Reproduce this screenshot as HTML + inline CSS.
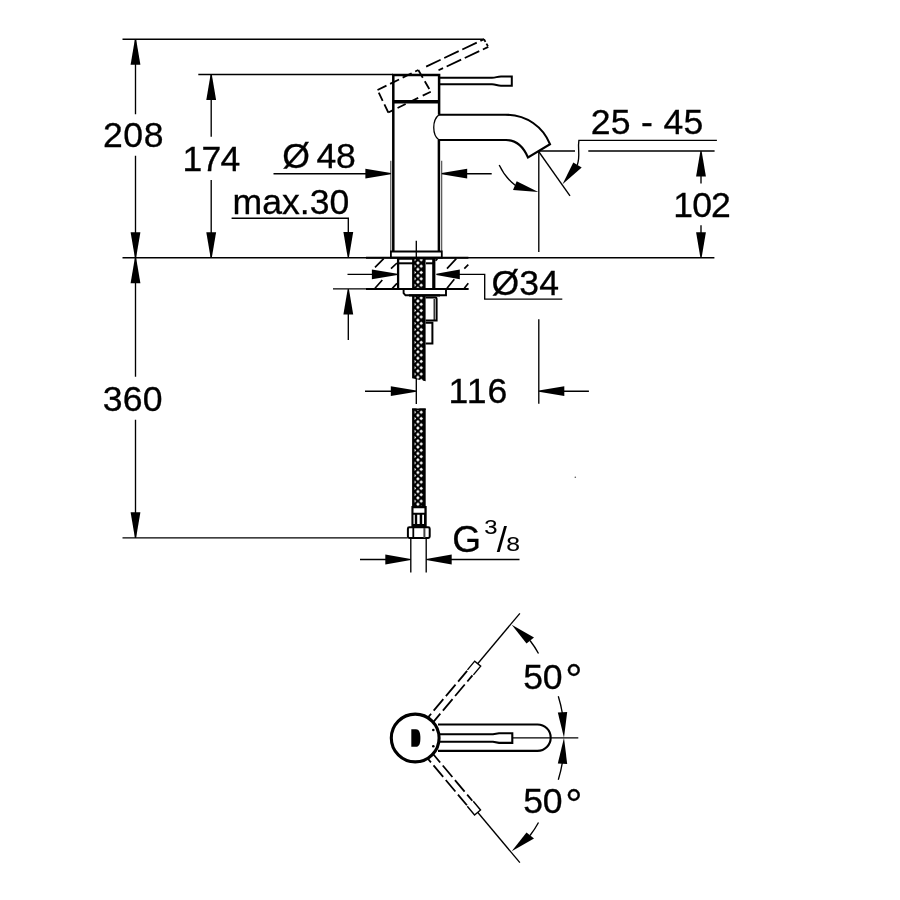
<!DOCTYPE html>
<html lang="en">
<head>
<meta charset="utf-8">
<title>Dimensional drawing</title>
<style>
html,body{margin:0;padding:0;background:#fff;}
body{width:900px;height:900px;overflow:hidden;}
svg{display:block;filter:grayscale(1);}
text{font-family:"Liberation Sans",sans-serif;font-size:35.6px;fill:#000;stroke:#000;stroke-width:0.3px;}
.t{stroke:#000;stroke-width:1.35;fill:none;}
.k{stroke:#000;stroke-width:2.1;fill:none;stroke-linejoin:miter;}
.d{stroke:#000;stroke-width:1.8;fill:none;stroke-dasharray:15 4;}
.a{fill:#000;stroke:none;}
</style>
</head>
<body>
<svg width="900" height="900" viewBox="0 0 900 900">
<defs>
<pattern id="braid" x="412.1" y="409.02" width="13.6" height="6.35" patternUnits="userSpaceOnUse">
<rect width="13.6" height="6.35" fill="#000"/>
<path d="M9.1 1.38L10.9 3.18L9.1 4.98L7.3 3.18Z M5.8 -1.8L7.6 0L5.8 1.8L4 0Z M5.8 4.55L7.6 6.35L5.8 8.15L4 6.35Z M2.5 1.6L4.1 3.18L2.5 4.76Z" fill="#fff"/>
</pattern>
</defs>
<rect width="900" height="900" fill="#fff"/>

<!-- ===== dimension / extension lines ===== -->
<g class="t">
<path d="M122.5 39.2H484"/>
<path d="M198.3 74.5H393"/>
<path d="M122.5 257.7H714.4"/>
<path d="M122.5 537.8H407.5"/>
<path d="M135.5 39.2V114.2M135.5 155.8V376.7M135.5 419.7V537.8"/>
<path d="M211.2 74.5V136.7M211.2 180V257.7"/>
<path d="M273.5 173.7H366M466 173.7H491.7"/>
<path d="M390.8 160.8V251M441.7 160.8V251" style="stroke:#444;stroke-width:1.1"/>
<path d="M231.6 218.2H348.3V234M348.3 313V340"/>
<path d="M333 288.8H366"/>
<path d="M347.5 274.3H373M459 274.3H484.7V299.1H562.3"/>
<path d="M365 391.2H391M563 391.2H588.9"/>
<path d="M538.8 151V252M538.8 319.3V403.8"/>
<path d="M416.3 240.8V258M416.3 378V404"/>
<path d="M701 174V183.6M701 225.3V234"/>
<path d="M538.3 151H575M588.3 151H714.6"/>
<path d="M716.9 140.4H578.9C577.5 149 580.5 156 577.3 165"/>
<path d="M538.3 151L570 195.8"/>
<path d="M499.2 165C503 173 508 180 515.5 185.5"/>
<path d="M410.8 538V572.6M426.2 538V572.6"/>
<path d="M360 559.5H386M450 559.5H519.5"/>
</g>

<!-- ===== arrow heads ===== -->
<g class="a">
<path d="M134.9 39.2L130.6 64.7L140.4 64.7L136.1 39.2Z"/>
<path d="M136.1 257.7L140.4 232.2L130.6 232.2L134.9 257.7Z"/>
<path d="M134.9 257.7L130.6 283.2L140.4 283.2L136.1 257.7Z"/>
<path d="M136.1 537.8L140.4 512.3L130.6 512.3L134.9 537.8Z"/>
<path d="M210.6 74.5L206.3 100.0L216.1 100.0L211.8 74.5Z"/>
<path d="M211.8 257.7L216.1 232.2L206.3 232.2L210.6 257.7Z"/>
<path d="M390.9 173.1L365.4 168.8L365.4 178.6L390.9 174.3Z"/>
<path d="M441.7 174.3L467.2 178.6L467.2 168.8L441.7 173.1Z"/>
<path d="M348.9 257.6L353.2 232.1L343.4 232.1L347.7 257.6Z"/>
<path d="M347.7 289.0L343.4 314.5L353.2 314.5L348.9 289.0Z"/>
<path d="M397.4 273.7L371.9 269.4L371.9 279.2L397.4 274.9Z"/>
<path d="M436.3 274.9L459.8 279.2L459.8 269.4L436.3 273.7Z"/>
<path d="M416.3 390.6L390.8 386.3L390.8 396.1L416.3 391.8Z"/>
<path d="M538.8 391.8L564.3 396.1L564.3 386.3L538.8 390.6Z"/>
<path d="M700.4 151.0L696.1 176.5L705.9 176.5L701.6 151.0Z"/>
<path d="M701.6 257.7L705.9 232.2L696.1 232.2L700.4 257.7Z"/>
<path d="M410.8 558.9L385.3 554.6L385.3 564.4L410.8 560.1Z"/>
<path d="M426.2 560.1L451.7 564.4L451.7 554.6L426.2 558.9Z"/>
<path d="M562.5 184.2L573.3 162.5L581.7 167.5Z"/>
<path d="M538.3 192L516.7 181.3L513 190Z"/>
</g>

<!-- ===== faucet side view ===== -->
<g class="k">
<path d="M393.3 251V75H439.1V114.7" style="stroke-width:2.5"/>
<path d="M438.9 140V251" style="stroke-width:2.5"/>
<path d="M393.3 101.7H439" style="stroke-width:3.6"/>
<path d="M439 114.7C432 120 432 135 439 140" stroke-width="1.3"/>
<path d="M439 114.7H505C527 114.7 543 127 550 144.2L528 157.5C524 148 518 140 506 140H439"/>
<path d="M439 77.8H492C496 77.8 497 76.4 501 76.4H511.8V85.7H501C497 85.7 496 84.3 492 84.3H439" style="stroke-width:2"/>
</g>
<!-- dashed raised lever -->
<g class="d">
<path d="M377.5 90L418.3 70" stroke-dasharray="10 4"/>
<path d="M418.3 70L430.8 91.7" stroke-dasharray="9 4"/>
<path d="M430.8 91.7L388.3 112.5" stroke-dasharray="9 5"/>
<path d="M388.3 112.5L377.5 90" stroke-dasharray="9 4"/>
<path d="M484 39.2L422.5 68.3" stroke-dasharray="16 4" stroke-dashoffset="12"/>
<path d="M488.3 46.9L438.5 70.3" stroke-dasharray="16 4" stroke-dashoffset="10"/>
<path d="M484 39.2L488.3 46.9" stroke-dasharray="3 2"/>
</g>

<!-- ===== countertop ===== -->
<g class="k">
<path d="M390.9 251.5H441.8V257.6H390.9Z" style="stroke-width:1.8"/>
<path d="M366 257.7H468.4" style="stroke-width:2.1"/>
<path d="M366 289H468.4" style="stroke-width:2.1"/>
<path d="M398.1 258V289" style="stroke-width:2.3"/>
<path d="M433.8 258V289" style="stroke-width:3.2"/>
<path d="M399 263.3H413.5" style="stroke-width:2"/>
<path d="M426 263.3H433" style="stroke-width:2"/>
<path d="M399 258.7H434" style="stroke-width:2"/>
<path d="M425.6 297.4H435.3Q436.6 297.4 436.6 298.7V320.4H425.6" style="stroke-width:2"/>
<path d="M434.2 299V320" style="stroke-width:1.2"/>
<path d="M425.6 322.8H432.4V343.6H425.6" style="stroke-width:2"/>
</g>
<g class="k" style="stroke-width:1.7">
<path d="M375 267.3L383.7 258.7M375 288.3L382.3 280M391 268.7L397 263M392.3 288.3L397 283.3"/>
<path d="M435.5 260.6L437.4 258.8M447 268.7L456.3 258.7M447 288.3L454.3 279.3M464.3 268.7L468.3 264.7M464.3 288.3L468.3 283.3"/>
</g>

<!-- ===== hose ===== -->
<path d="M412.1 258H425.6V381.2L412.1 378.3Z" fill="url(#braid)"/>
<path d="M412.1 408.5H425.7V507H412.1Z" fill="url(#braid)"/>
<path d="M412.1 409.2H425.7M412.1 258.6H425.6" stroke="#000" stroke-width="1.4"/>
<path class="k" d="M403.6 289V293.2L405.5 295.3H446V289Z" style="stroke-width:1.9;fill:#fff"/>
<path class="k" d="M409 295.4H440" style="stroke-width:2.2"/>
<path class="k" d="M366 289H468.4" style="stroke-width:2.1"/>
<path d="M411.4 506H426.7V527H411.4Z" fill="#000"/>
<path d="M413.5 508.3H424.4V512.7H413.5Z M413.5 514.8H414.8V524H413.5Z M417.2 514.8H419.7V524H417.2Z M422.2 514.8H424V524H422.2Z" fill="#fff"/>
<rect x="407.9" y="527.3" width="21.8" height="10.7" rx="1.4" fill="#fff" stroke="#000" stroke-width="2"/>
<path d="M413.3 528V538" stroke="#000" stroke-width="1.8"/>
<path d="M424.4 528V538" stroke="#444" stroke-width="2"/>

<!-- ===== top view ===== -->
<g class="k">
<circle cx="415.2" cy="738" r="23.9" style="stroke-width:3.1"/>
<path d="M438 724.5H537.5A13.2 13.2 0 0 1 537.5 750.9H438"/>
<path d="M440 734.2H493L499 733.2H512.3V742.9H499L493 741.8H440"/>
</g>
<path class="a" d="M411.3 729.2H416C419 729.2 420.4 732 420.4 738C420.4 744 419 746.8 416 746.8H411.3Z"/>
<circle class="a" cx="433.3" cy="730" r="1.3"/>
<circle class="a" cx="433.3" cy="746.2" r="1.3"/>
<g class="d">
<g transform="rotate(-50 415.2 738)"><path d="M438 734.6H500" stroke-dashoffset="9"/><path d="M438 741.6H500" stroke-dashoffset="3"/><path d="M501 734.2H512.3V742H501" stroke-dasharray="none" style="stroke-width:1.4"/></g>
<g transform="rotate(50 415.2 738)"><path d="M438 734.6H500" stroke-dashoffset="3"/><path d="M438 741.6H500" stroke-dashoffset="9"/><path d="M501 734.2H512.3V742H501" stroke-dasharray="none" style="stroke-width:1.4"/></g>
</g>
<g class="t">
<path d="M512.3 737.8H578.3"/>
<g transform="rotate(-50 415.3 738)"><path d="M512.3 738H578"/></g>
<g transform="rotate(50 415.3 738)"><path d="M512.3 738H578"/></g>
<path d="M530 640.5Q535 647 538.5 653.5"/>
<path d="M558.3 696.3Q561 705 562.5 714"/>
<path d="M530 835.5Q535 829 538.5 822.5"/>
<path d="M558.3 779.7Q561 771 562.5 762"/>
</g>
<g class="a">
<path d="M564 737.8L557.8 712.5L567.2 712Z"/>
<path d="M564 737.8L557.8 763.5L567.2 764Z"/>
<path d="M511.7 624.7L534 637.5L526.5 643.5Z"/>
<path d="M511.7 851.3L534 838.5L526.5 832.5Z"/>
</g>
<circle cx="575.3" cy="477.3" r="0.8" fill="#555"/>

<!-- ===== text ===== -->
<g class="tx">
<text x="103.05" y="147.31" style="letter-spacing:0.54px">208</text>
<text x="182.54" y="170.6" style="letter-spacing:-0.77px">174</text>
<text x="282.3" y="167.5">Ø<tspan x="316.4" style="letter-spacing:-0.16px">48</tspan></text>
<text x="232.55" y="214.32" style="letter-spacing:0.01px">max.30</text>
<text x="590.74" y="134.0" style="letter-spacing:0.29px">25 - 45</text>
<text x="673.35" y="217.4" style="letter-spacing:-0.96px">102</text>
<text x="491.4" y="295.0" style="letter-spacing:0.2px">Ø34</text>
<text x="448.54" y="403.0" style="letter-spacing:1.08px">116</text>
<text x="102.71" y="411.33" style="letter-spacing:0.28px">360</text>
<text x="523.31" y="688.6" style="letter-spacing:-0.4px">50<tspan x="565.3" y="693.7" style="font-size:43px">°</tspan></text>
<text x="523.31" y="813.4" style="letter-spacing:-0.4px">50<tspan x="565.3" y="818.5" style="font-size:43px">°</tspan></text>
<text x="452.13" y="552.17" style="font-size:37px">G</text>
<text x="484.31" y="533.91" transform="matrix(1.162 0 0 1 -78.458 0)" style="font-size:20.5px;stroke-width:0.1px">3</text>
<text x="496.87" y="552.0" transform="matrix(1.019 0 0 1 -9.441 0)" style="font-size:36px;stroke:none">/</text>
<text x="506.3" y="551.48" transform="matrix(1.208 0 0 1 -105.31 0)" style="font-size:20.5px;stroke-width:0.1px">8</text>
</g>
</svg>
</body>
</html>
